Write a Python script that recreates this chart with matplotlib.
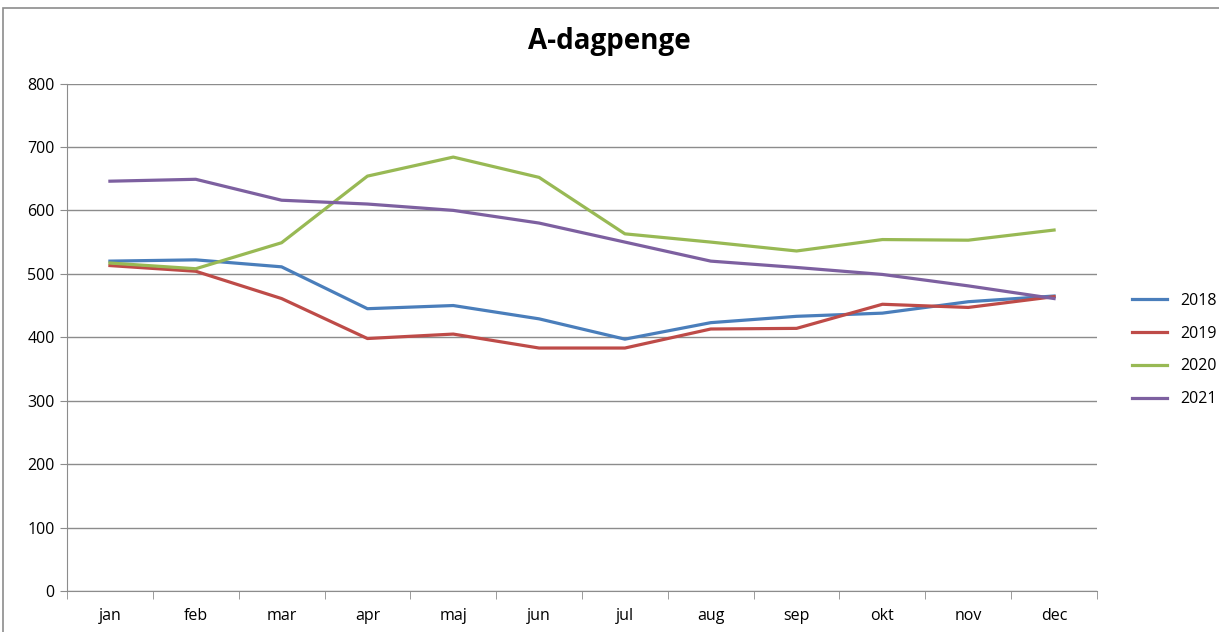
import numpy as np
import matplotlib.pyplot as plt
from matplotlib.patches import Rectangle

# Data
months = ['jan', 'feb', 'mar', 'apr', 'maj', 'jun', 'jul', 'aug', 'sep', 'okt', 'nov', 'dec']
v2018 = [520, 522, 511, 445, 450, 429, 397, 423, 433, 438, 456, 465]
v2019 = [513, 504, 461, 398, 405, 383, 383, 413, 414, 452, 447, 464]
v2020 = [517, 508, 549, 654, 684, 652, 563, 550, 536, 554, 553, 569]
v2021 = [646, 649, 616, 610, 600, 580, 550, 520, 510, 499, 481, 461]

series = [('2018', v2018, '#4A7EBB'),
          ('2019', v2019, '#BE4B48'),
          ('2020', v2020, '#98B954'),
          ('2021', v2021, '#7D60A0')]

plt.rcParams['font.family'] = ['Open Sans', 'DejaVu Sans']

fig = plt.figure(figsize=(12.19, 6.32), dpi=100)
ax = fig.add_axes([67 / 1219, 1 - 591 / 632, (1097 - 67) / 1219, (591 - 83.5) / 632])

# chart frame
fig.patches.append(Rectangle((3 / 1219, -0.02), 1 - 3 / 1219 + 0.02, 1 - 8 / 632 + 0.02,
                             transform=fig.transFigure, fill=False, edgecolor='#8c8c8c', lw=1.2))

x = np.arange(len(months))
for name, vals, col in series:
    ax.plot(x, vals, color=col, lw=2.3, label=name, solid_joinstyle='round')

ax.set_xlim(-0.5, len(months) - 0.5)
ax.set_ylim(0, 800)
ax.set_yticks(range(0, 801, 100))
ax.set_xticks(x)
ax.set_xticklabels(months)
ax.set_xticks(np.arange(-0.5, len(months), 1), minor=True)
ax.tick_params(axis='x', which='major', length=0, pad=12, labelsize=11.5)
ax.tick_params(axis='x', which='minor', length=6, color='#8c8c8c', direction='out')
ax.tick_params(axis='y', length=5, color='#8c8c8c', labelsize=11.5, pad=4)

ax.grid(axis='y', color='#8c8c8c', lw=1)
ax.set_axisbelow(True)
for s in ['top', 'right']:
    ax.spines[s].set_visible(False)
for s in ['left', 'bottom']:
    ax.spines[s].set_color('#8c8c8c')

fig.text(0.5, 1 - 42 / 632, 'A-dagpenge', ha='center', va='center',
         fontsize=20, fontweight='bold')

ax.legend(loc='center left', bbox_to_anchor=(1.02, 0.475), frameon=False,
          fontsize=11.5, handlelength=2.2, labelspacing=1.05)

fig.savefig('out.png', dpi=100)
